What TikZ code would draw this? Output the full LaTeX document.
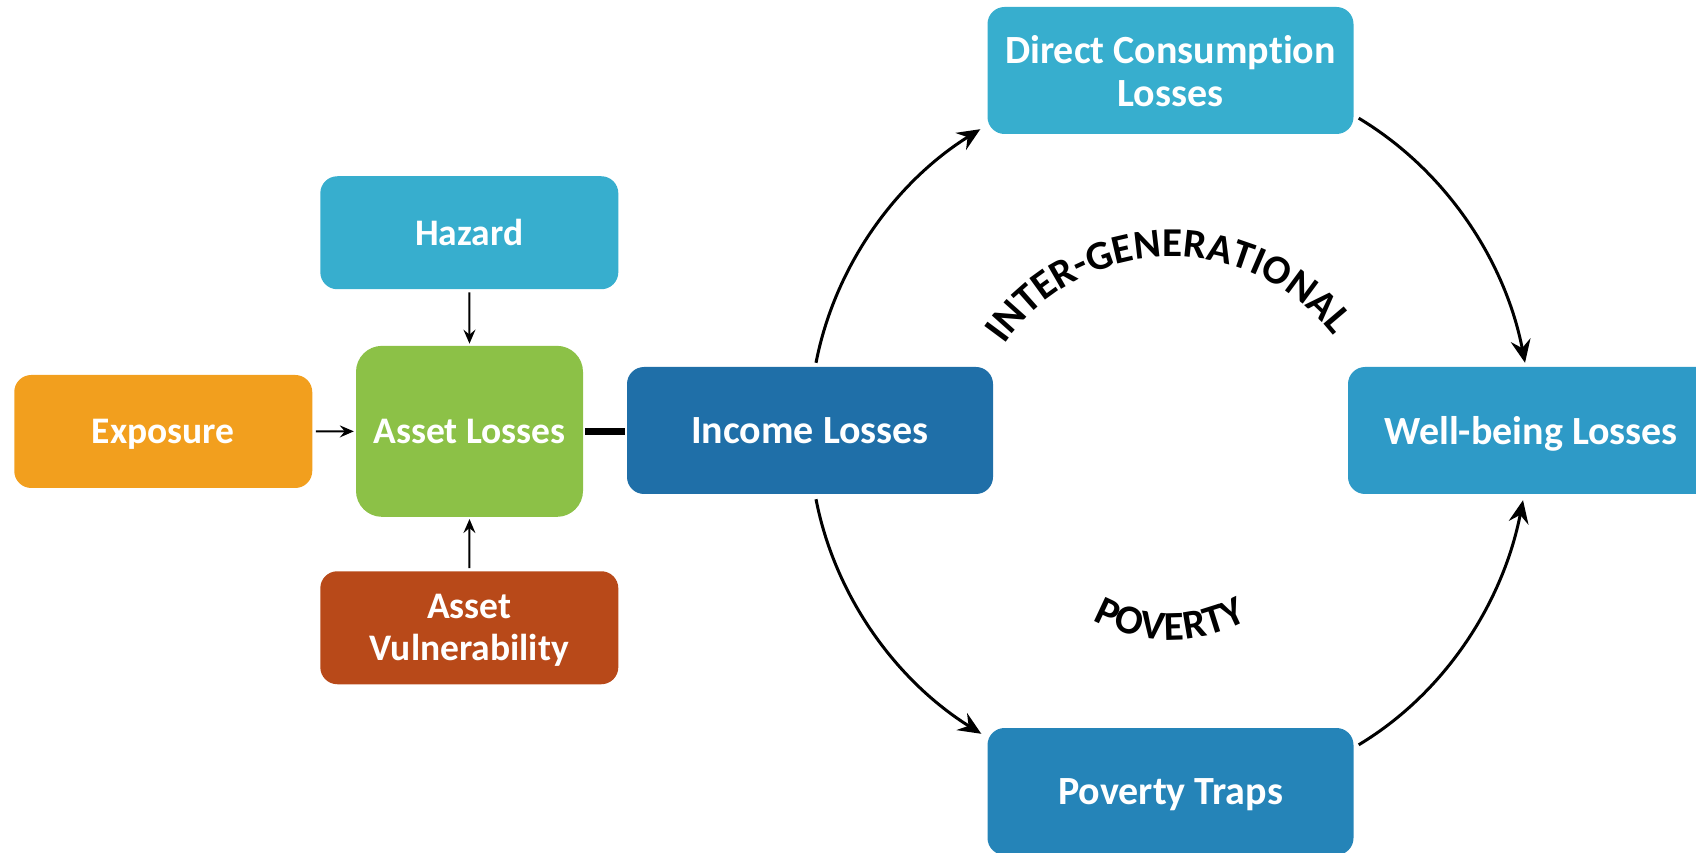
\documentclass[tikz,border=0pt]{standalone}
\usepackage{fontspec}
\setmainfont{Carlito}[Ligatures=NoCommon]
\usetikzlibrary{arrows.meta,decorations.text}

\definecolor{skyblue}{HTML}{37AECE}
\definecolor{exporange}{HTML}{F29F1E}
\definecolor{assetgreen}{HTML}{8CC147}
\definecolor{vulnred}{HTML}{B84919}
\definecolor{incblue}{HTML}{1F6FA8}
\definecolor{wellblue}{HTML}{2E9AC7}
\definecolor{trapblue}{HTML}{2584B8}

\begin{document}
\begin{tikzpicture}[x=1pt,y=1pt,
  box/.style={rectangle, rounded corners=17pt, fill=#1, draw=none, text=white,
    font=\bfseries\fontsize{37.5}{42}\selectfont, align=center, inner sep=0pt, text depth=0pt},
  smallbox/.style={minimum width=298pt, minimum height=113pt},
  bigbox/.style={minimum width=366pt, minimum height=127pt, font=\bfseries\fontsize{40}{43}\selectfont},
  feed/.style={-{Stealth[length=14pt,width=12pt,inset=5pt]}, line width=2pt},
  looparrow/.style={-{Stealth[length=23pt,width=20pt,inset=8pt]}, line width=3pt, looseness=0.89},
  arcword/.style 2 args={decorate, decoration={text along path, text align=fit to path,
    text={|\bfseries\fontsize{#1}{#1}\selectfont|#2}}}
]
\clip (0,0) rectangle (1696,852);

% left block: drivers of asset losses
\node[box=skyblue, smallbox] (haz) at (469.3, 619.25) {Hazard};
\node[box=exporange, smallbox] (exp) at (163.25, 420.5) {Exposure};
\node[box=assetgreen, minimum width=227pt, minimum height=171pt, rounded corners=26pt] (ast) at (469.5, 420.65) {Asset Losses};
\node[box=vulnred, smallbox] (vul) at (469.3, 224.25) {Asset\\Vulnerability};

% right block: the loss cycle
\node[box=incblue, bigbox] (inc) at (810, 421.5) {Income Losses};
\node[box=skyblue, bigbox] (dc) at (1170.5, 781.5) {Direct Consumption\\Losses};
\node[box=wellblue, bigbox] (wb) at (1531, 421.5) {Well-being Losses};
\node[box=trapblue, bigbox] (pt) at (1170.5, 60.5) {Poverty Traps};

% short arrows into asset losses
\draw[feed, shorten <=3pt, shorten >=2pt] (haz.south) -- (ast.north);
\draw[feed, shorten <=3.5pt, shorten >=2pt] (exp.east) -- (ast.west);
\draw[feed, shorten <=3pt, shorten >=2pt] (vul.north) -- (ast.south);

% thick link from asset losses to income losses
\draw[line width=7.5pt, shorten <=2pt, shorten >=2pt] (ast.east) -- (ast.east -| inc.west);

% curved arrows around the cycle
\draw[looparrow] ([xshift=6pt,yshift=4pt]inc.north) to[out=79,in=212] ([xshift=-7pt,yshift=5pt]dc.south west);
\draw[looparrow] ([xshift=5pt,yshift=16pt]dc.south east) to[out=-31,in=101] ([xshift=-6pt,yshift=4pt]wb.north);
\draw[looparrow] ([xshift=6pt,yshift=-5pt]inc.south) to[out=-79,in=148] ([xshift=-6pt,yshift=-6pt]pt.north west);
\draw[looparrow] ([xshift=5pt,yshift=-17pt]pt.north east) to[out=31,in=259] ([xshift=-8pt,yshift=-6pt]wb.south);

% curved captions inside the cycle
\coordinate (upc) at (1172, 390);
\coordinate (lowc) at (1170, 372);
\path[arcword={41}{INTER-GENERATIONAL}] (upc) ++(145:205) arc[start angle=145, end angle=38, radius=205];
\path[arcword={41}{POVERTY}] (lowc) ++(241:160) arc[start angle=241, end angle=299, radius=160];
\end{tikzpicture}
\end{document}
